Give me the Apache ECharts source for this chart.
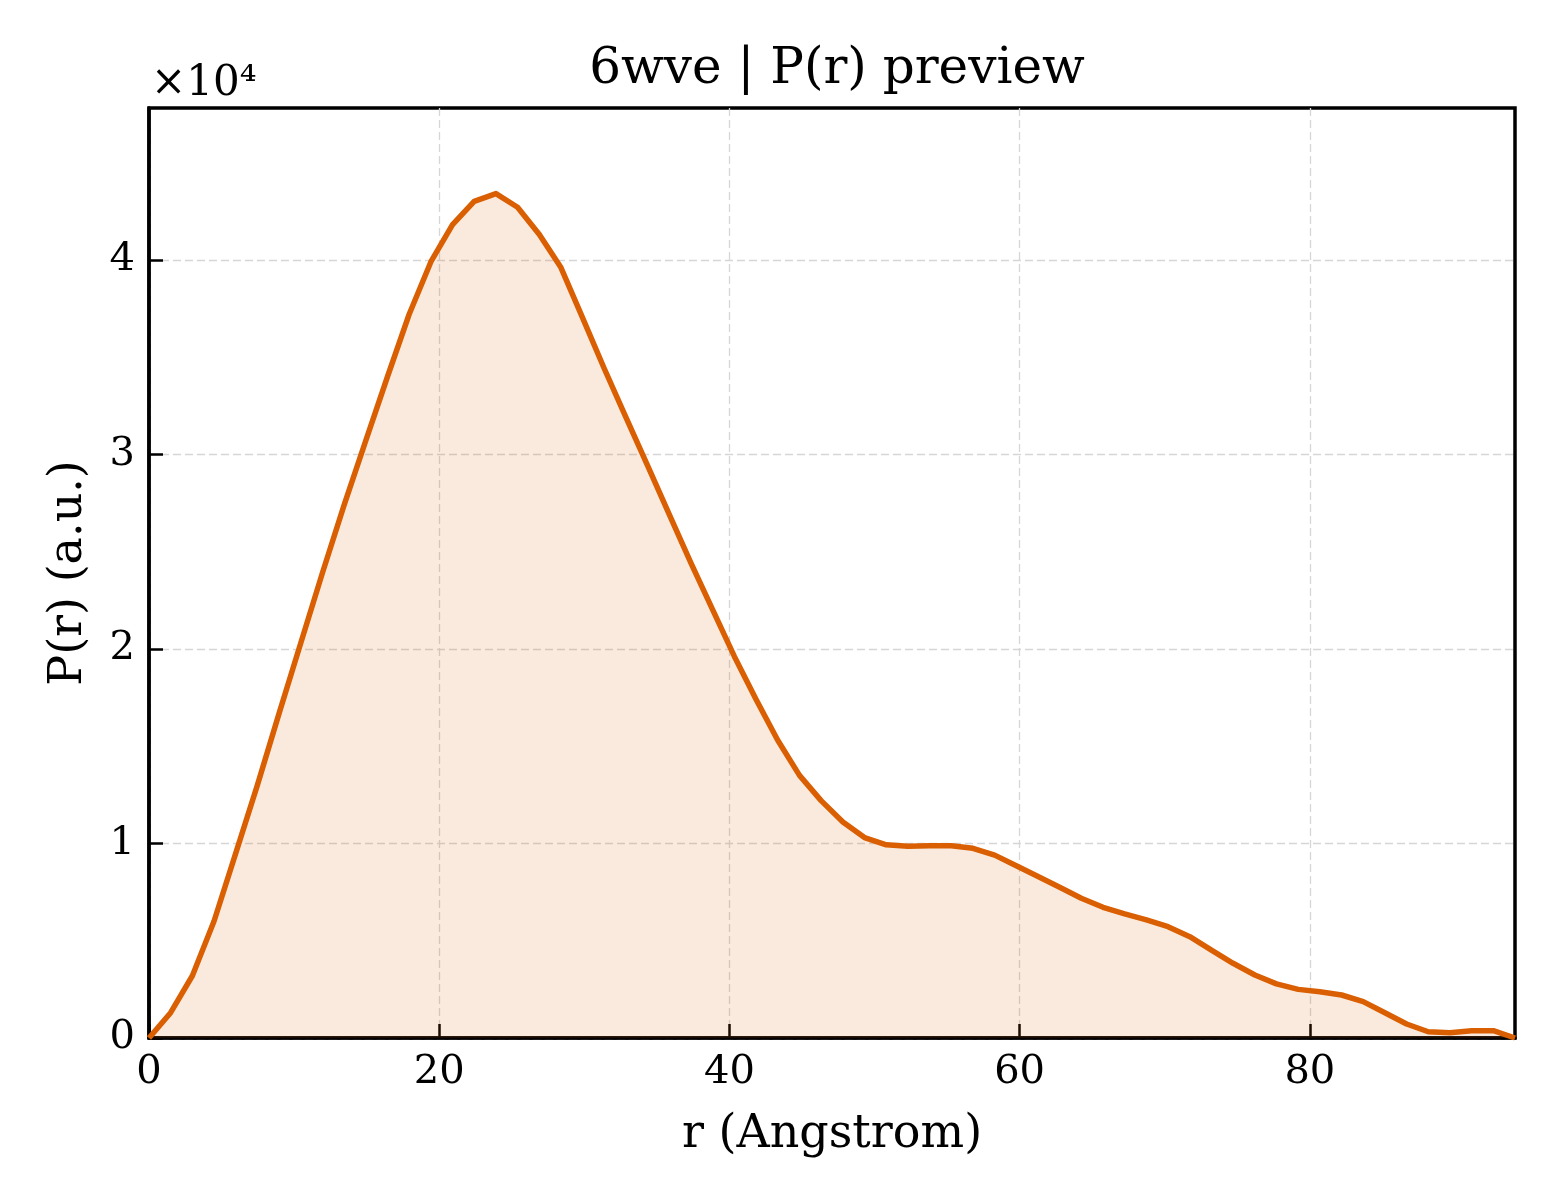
<!DOCTYPE html>
<html>
<head>
<meta charset="utf-8">
<title>6wve | P(r) preview</title>
<script src="https://cdn.jsdelivr.net/npm/echarts@6/dist/echarts.min.js"></script>
<style>
  html, body { margin: 0; padding: 0; background: #ffffff; }
  #chart { width: 1560px; height: 1200px; }
</style>
</head>
<body>
<div id="chart"></div>
<script>
// r grid (Angstrom)
const rValues = [
  0, 1.49, 2.99, 4.48, 5.98, 7.47, 8.97, 10.46, 11.95, 13.45,
  14.94, 16.44, 17.93, 19.43, 20.92, 22.41, 23.91, 25.40, 26.90, 28.39,
  29.89, 31.38, 32.87, 34.37, 35.86, 37.36, 38.85, 40.35, 41.84, 43.33,
  44.83, 46.32, 47.82, 49.31, 50.81, 52.30, 53.79, 55.29, 56.78, 58.28,
  59.77, 61.27, 62.76, 64.25, 65.75, 67.24, 68.74, 70.23, 71.73, 73.22,
  74.71, 76.21, 77.70, 79.20, 80.69, 82.19, 83.68, 85.17, 86.67, 88.16,
  89.66, 91.15, 92.65, 94.14
];

// P(r) in a.u.
const prValues = [
  0, 1300, 3200, 6000, 9500, 13000, 16700, 20300, 23900, 27400,
  30700, 34000, 37200, 39900, 41800, 43000, 43400, 42700, 41300, 39600,
  37000, 34400, 31900, 29400, 26900, 24400, 22000, 19600, 17400, 15300,
  13500, 12200, 11100, 10300, 9930, 9850, 9880, 9880, 9750, 9400,
  8850, 8300, 7750, 7180, 6720, 6380, 6070, 5720, 5210, 4520,
  3840, 3240, 2780, 2500, 2380, 2210, 1870, 1300, 720, 320,
  270, 375, 375, 0
];

const xTicks = [0, 20, 40, 60, 80];
const yScale = 1e4;

const FONT = 'DejaVu Serif';
const LINE = '#d95f02';

const chart = echarts.init(document.getElementById('chart'));

chart.setOption({
  backgroundColor: '#ffffff',
  animation: false,
  textStyle: { fontFamily: FONT },
  title: {
    text: '6wve | P(r) preview',
    left: 832,
    top: 40,
    textAlign: 'center',
    textStyle: { fontFamily: FONT, fontWeight: 'normal', fontSize: 50, color: '#000' }
  },
  graphic: [
    {
      type: 'text',
      left: 151,
      top: 63,
      style: { text: '×10⁴', font: '42px "DejaVu Serif"', fill: '#000' }
    }
  ],
  grid: {
    left: 149,
    right: 45,
    top: 108,
    bottom: 162,
    show: true,
    borderColor: '#000',
    borderWidth: 3.5,
    backgroundColor: 'transparent'
  },
  xAxis: {
    type: 'value',
    min: 0,
    max: rValues[rValues.length - 1],
    interval: 20,
    name: 'r (Angstrom)',
    nameLocation: 'middle',
    nameGap: 74,
    nameTextStyle: { fontFamily: FONT, fontSize: 46, color: '#000' },
    axisLine: { show: true, lineStyle: { color: '#000', width: 3.5 } },
    axisTick: { show: true, inside: true, length: 14, lineStyle: { color: '#000', width: 2.5 } },
    axisLabel: {
      show: true,
      margin: 15,
      showMaxLabel: false,
      fontFamily: FONT,
      fontSize: 40,
      color: '#000',
      formatter: (v) => (xTicks.includes(v) ? String(v) : '')
    },
    splitLine: {
      show: true,
      showMaxLine: false,
      lineStyle: { color: '#d6d6d6', width: 1.3, type: [8, 4] }
    }
  },
  yAxis: {
    type: 'value',
    min: 0,
    max: 47800,
    interval: 10000,
    name: 'P(r) (a.u.)',
    nameLocation: 'middle',
    nameGap: 57,
    nameRotate: 90,
    nameTextStyle: { fontFamily: FONT, fontSize: 46, color: '#000' },
    axisLine: { show: true, lineStyle: { color: '#000', width: 3.5 } },
    axisTick: { show: true, inside: true, length: 14, lineStyle: { color: '#000', width: 2.5 } },
    axisLabel: {
      show: true,
      margin: 14,
      showMaxLabel: false,
      fontFamily: FONT,
      fontSize: 40,
      color: '#000',
      formatter: (v) => String(Math.round(v / yScale))
    },
    splitLine: {
      show: true,
      showMaxLine: false,
      lineStyle: { color: '#d6d6d6', width: 1.3, type: [8, 4] }
    }
  },
  series: [
    {
      type: 'line',
      data: rValues.map((r, i) => [r, prValues[i]]),
      showSymbol: false,
      symbol: 'none',
      clip: true,
      lineStyle: { color: LINE, width: 5.5, join: 'round' },
      areaStyle: { color: LINE, opacity: 0.13 },
      z: 3
    }
  ]
});
</script>
</body>
</html>
